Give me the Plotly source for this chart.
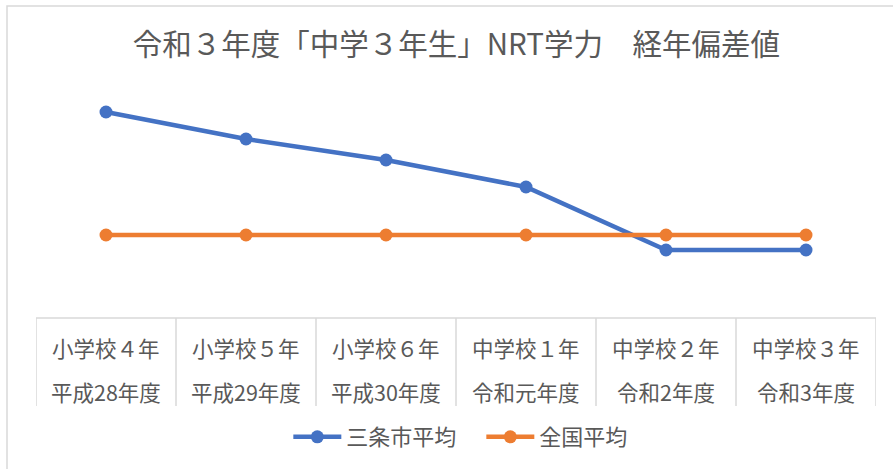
import plotly.graph_objects as go

W, H = 893, 469

grade_labels = ["小学校４年", "小学校５年", "小学校６年", "中学校１年", "中学校２年", "中学校３年"]
year_labels = ["平成28年度", "平成29年度", "平成30年度", "令和元年度", "令和2年度", "令和3年度"]
sanjo_values = [54.1, 53.2, 52.5, 51.6, 49.5, 49.5]
national_values = [50, 50, 50, 50, 50, 50]
series_names = ["三条市平均", "全国平均"]

x_idx = list(range(len(grade_labels)))

def py(px):
    return (H - px) / H

def px_x(px):
    return px / W

BLUE = "#4472C4"
ORANGE = "#ED7D31"
TXT = "#595959"
GRID = "#D9D9D9"
FONT = "Noto Sans CJK JP"

fig = go.Figure()
fig.add_trace(go.Scatter(x=x_idx, y=sanjo_values, name=series_names[0], mode="lines+markers",
                         line=dict(color=BLUE, width=4.5), marker=dict(size=13, color=BLUE)))
fig.add_trace(go.Scatter(x=x_idx, y=national_values, name=series_names[1], mode="lines+markers",
                         line=dict(color=ORANGE, width=4.5), marker=dict(size=13, color=ORANGE)))

shapes = []
# outer chart border
shapes.append(dict(type="rect", xref="paper", yref="paper", x0=px_x(7), x1=px_x(W + 20),
                   y0=py(H + 20), y1=py(6), line=dict(color=GRID, width=1.5), fillcolor="rgba(0,0,0,0)"))
# table top line
shapes.append(dict(type="line", xref="x", yref="paper", x0=-0.5, x1=len(x_idx) - 0.5,
                   y0=py(318), y1=py(318), line=dict(color=GRID, width=1.5)))
for i in range(len(x_idx) + 1):
    shapes.append(dict(type="line", xref="x", yref="paper", x0=i - 0.5, x1=i - 0.5,
                       y0=py(318), y1=py(406), line=dict(color=GRID, width=1.5)))

annotations = []
for i, (g, yl) in enumerate(zip(grade_labels, year_labels)):
    annotations.append(dict(x=i, y=py(347), xref="x", yref="paper", text=g, showarrow=False,
                            font=dict(size=21.5, color=TXT, family=FONT), yanchor="middle"))
    annotations.append(dict(x=i, y=py(391), xref="x", yref="paper", text=yl, showarrow=False,
                            font=dict(size=21.5, color=TXT, family=FONT), yanchor="middle"))

fig.update_layout(
    width=W, height=H,
    margin=dict(l=0, r=0, t=0, b=0),
    paper_bgcolor="white", plot_bgcolor="white",
    title=dict(text="令和３年度「中学３年生」NRT学力　経年偏差値", x=0.511, xanchor="center",
               y=py(45), yanchor="middle", font=dict(size=29.5, color=TXT, family=FONT)),
    xaxis=dict(domain=[px_x(36), px_x(876)], range=[-0.5, len(x_idx) - 0.5], showticklabels=False,
               showgrid=False, zeroline=False, showline=False, fixedrange=True),
    yaxis=dict(domain=[py(325), py(85)], range=[47, 55], showticklabels=False, showgrid=False,
               zeroline=False, showline=False, fixedrange=True),
    legend=dict(orientation="h", x=0.539, xanchor="center", y=py(437), yanchor="middle",
                font=dict(size=22, color=TXT, family=FONT), itemwidth=48, traceorder="normal",
                entrywidth=130, entrywidthmode="pixels"),
    shapes=shapes, annotations=annotations,
    showlegend=True,
)

fig.write_html("out.html", config={"displayModeBar": False},
               post_script="document.body.style.margin='0';")
